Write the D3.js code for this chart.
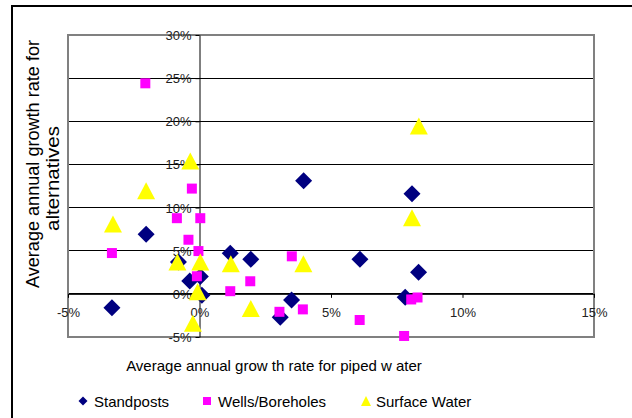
<!DOCTYPE html>
<html>
<head>
<meta charset="utf-8">
<script src="https://cdn.jsdelivr.net/npm/d3@7/dist/d3.min.js"></script>
<style>
  html, body { margin: 0; padding: 0; background: #fff; }
  svg { display: block; font-family: "Liberation Sans", Arial, sans-serif; }
</style>
</head>
<body>
<svg id="chart" width="632" height="418"></svg>
<script>
// Growth of piped water (x, %) vs growth of alternative sources (y, %)
const standposts = [
  [3.96, 13.1], [8.08, 11.6], [-2.03, 6.9], [1.17, 4.7], [1.95, 4.0],
  [6.1, 4.0], [8.33, 2.5], [-0.8, 3.7], [-0.37, 1.5], [0.03, 2.0],
  [0.09, -0.15], [-3.33, -1.6], [3.5, -0.7], [3.07, -2.7], [7.82, -0.4]
];
const wellsBoreholes = [
  [-2.06, 24.4], [-0.29, 12.2], [-0.86, 8.77], [0.03, 8.77], [-0.42, 6.27],
  [-3.33, 4.73], [-0.04, 4.96], [-0.1, 2.04], [1.17, 0.31], [1.93, 1.46],
  [3.51, 4.35], [3.04, -2.08], [3.93, -1.8], [8.05, -0.65], [8.29, -0.42],
  [6.09, -3.03], [7.78, -4.88]
];
const surfaceWater = [
  [-0.35, 15.4], [-2.03, 11.96], [8.34, 19.46], [-3.29, 8.1], [-0.84, 3.7],
  [0.03, 3.7], [1.19, 3.5], [3.95, 3.5], [-0.07, 0.23], [1.95, -1.69],
  [-0.25, -3.42], [8.08, 8.81]
];
const xTicks = [-5, 0, 5, 10, 15];
const yTicks = [-5, 0, 5, 10, 15, 20, 25, 30];
const seriesNames = ["Standposts", "Wells/Boreholes", "Surface Water"];
const xTitle = "Average annual grow th rate for piped w ater";
const yTitleLines = ["Average annual growth rate for", "alternatives"];

const svg = d3.select("#chart");
const plot = { left: 68, top: 35, right: 594, bottom: 337 };

const x = d3.scaleLinear().domain([-5, 15]).range([plot.left, plot.right]);
const y = d3.scaleLinear().domain([-5, 30]).range([plot.bottom, plot.top]);

// outer chart frame
svg.append("rect")
  .attr("x", 12).attr("y", 6).attr("width", 660).attr("height", 440)
  .attr("fill", "#fff").attr("stroke", "#000").attr("stroke-width", 2);

// horizontal gridlines
svg.append("g").selectAll("line").data(yTicks).join("line")
  .attr("x1", plot.left).attr("x2", plot.right)
  .attr("y1", d => y(d)).attr("y2", d => y(d))
  .attr("stroke", "#000").attr("stroke-width", 1)
  .attr("shape-rendering", "crispEdges");

// plot-area border
svg.append("rect")
  .attr("x", plot.left).attr("y", plot.top)
  .attr("width", plot.right - plot.left).attr("height", plot.bottom - plot.top)
  .attr("fill", "none").attr("stroke", "#808080").attr("stroke-width", 2);

const fmt = d => d + "%";

// y axis crossing at x = 0
const yAxis = svg.append("g")
  .attr("transform", `translate(${x(0)},0)`)
  .call(d3.axisLeft(y).tickValues(yTicks).tickFormat(fmt).tickSize(4).tickPadding(4).tickSizeOuter(0));

// x axis crossing at y = 0
const xAxis = svg.append("g")
  .attr("transform", `translate(0,${y(0)})`)
  .call(d3.axisBottom(x).tickValues(xTicks).tickFormat(fmt).tickSize(4).tickPadding(10).tickSizeOuter(0));

[xAxis, yAxis].forEach(g => {
  g.select(".domain").attr("stroke", "#000").attr("stroke-width", 1);
  g.selectAll(".tick line").attr("stroke", "#000");
  g.selectAll(".tick text").attr("fill", "#222")
    .style("font-family", "'Liberation Sans', Arial, sans-serif").style("font-size", "13px");
});
yAxis.selectAll(".tick text").attr("dy", "0.35em");

// marker shapes
const diamond = (s) => `M0,${-s}L${s},0L0,${s}L${-s},0Z`;
const square = (s) => `M${-s},${-s}H${s}V${s}H${-s}Z`;
const triangle = (w, h) => `M0,${-h / 2}L${w / 2},${h / 2}L${-w / 2},${h / 2}Z`;

const series = [
  { data: standposts, color: "#000080", path: diamond(8.5), legend: diamond(4.5) },
  { data: wellsBoreholes, color: "#ff00ff", path: square(5), legend: square(4) },
  { data: surfaceWater, color: "#ffff00", path: triangle(18, 17), legend: triangle(10, 10) }
];

series.forEach(s => {
  svg.append("g").selectAll("path").data(s.data).join("path")
    .attr("d", s.path)
    .attr("transform", d => `translate(${x(d[0])},${y(d[1])})`)
    .attr("fill", s.color);
});

// axis titles
svg.append("text")
  .attr("x", 274).attr("y", 371)
  .attr("text-anchor", "middle")
  .style("font-size", "15px").attr("fill", "#000")
  .text(xTitle);

const yTitlePos = [[33, 164, 248], [53, 178.5, 105]];
yTitleLines.forEach((t, i) => {
  const [cx, cy, len] = yTitlePos[i];
  svg.append("text")
    .attr("transform", `translate(${cx},${cy}) rotate(-90)`)
    .attr("text-anchor", "middle").attr("dominant-baseline", "central")
    .attr("textLength", len).attr("lengthAdjust", "spacingAndGlyphs")
    .style("font-size", "18px").attr("fill", "#000")
    .text(t);
});

// legend
const legendPos = [[83, 94], [207, 218], [366, 376]];
series.forEach((s, i) => {
  const [mx, tx] = legendPos[i];
  svg.append("path").attr("d", s.legend)
    .attr("transform", `translate(${mx},401)`).attr("fill", s.color);
  svg.append("text").attr("x", tx).attr("y", 406.5)
    .style("font-size", "15px").attr("fill", "#000")
    .text(seriesNames[i]);
});
</script>
</body>
</html>
